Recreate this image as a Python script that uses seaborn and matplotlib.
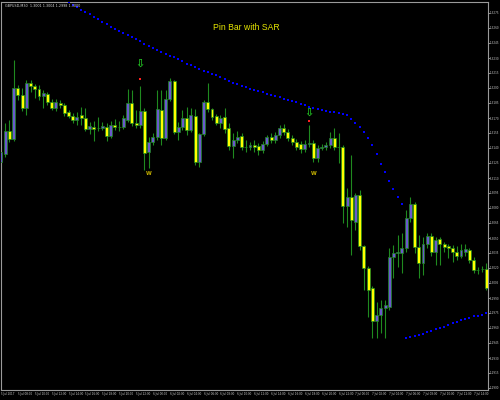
import matplotlib
matplotlib.use('Agg')
import numpy as np
import pandas as pd
from matplotlib import pyplot as plt
import seaborn as sns

# GBPUSD M30 candles
opens = [1.3126, 1.3134, 1.3157, 1.3149, 1.3200, 1.3193, 1.3180, 1.3205, 1.3202, 1.3199,
         1.3192, 1.3194, 1.3186, 1.3180, 1.3185, 1.3183, 1.3176, 1.3172, 1.3168, 1.3173,
         1.3170, 1.3159, 1.3161, 1.3160, 1.3160, 1.3161, 1.3152, 1.3163, 1.3161, 1.3161,
         1.3168, 1.3185, 1.3165, 1.3163, 1.3177, 1.3136, 1.3146, 1.3151, 1.3178, 1.3150,
         1.3189, 1.3207, 1.3156, 1.3161, 1.3170, 1.3158, 1.3172, 1.3126, 1.3154, 1.3186,
         1.3179, 1.3172, 1.3165, 1.3171, 1.3160, 1.3142, 1.3148, 1.3152, 1.3141, 1.3141,
         1.3143, 1.3142, 1.3138, 1.3144, 1.3151, 1.3148, 1.3153, 1.3160, 1.3156, 1.3150,
         1.3146, 1.3144, 1.3139, 1.3144, 1.3145, 1.3130, 1.3140, 1.3141, 1.3143, 1.3150,
         1.3141, 1.3141, 1.3082, 1.3091, 1.3066, 1.3093, 1.3042, 1.3020, 1.3000, 1.2967,
         1.2973, 1.2980, 1.2981, 1.3031, 1.3035, 1.3035, 1.3040, 1.3070, 1.3084, 1.3041,
         1.3025, 1.3044, 1.3052, 1.3036, 1.3049, 1.3044, 1.3042, 1.3040, 1.3036, 1.3032,
         1.3036, 1.3038, 1.3028, 1.3018, 1.3019, 1.3019]
highs = [1.3143, 1.3165, 1.3168, 1.3228, 1.3203, 1.3200, 1.3208, 1.3208, 1.3204, 1.3203,
         1.3198, 1.3196, 1.3189, 1.3189, 1.3188, 1.3185, 1.3178, 1.3175, 1.3176, 1.3181,
         1.3180, 1.3166, 1.3167, 1.3171, 1.3166, 1.3165, 1.3167, 1.3169, 1.3167, 1.3173,
         1.3199, 1.3198, 1.3178, 1.3202, 1.3180, 1.3151, 1.3155, 1.3198, 1.3198, 1.3198,
         1.3210, 1.3208, 1.3166, 1.3178, 1.3181, 1.3180, 1.3179, 1.3155, 1.3188, 1.3205,
         1.3180, 1.3174, 1.3173, 1.3180, 1.3165, 1.3155, 1.3157, 1.3155, 1.3148, 1.3146,
         1.3148, 1.3145, 1.3147, 1.3153, 1.3155, 1.3156, 1.3163, 1.3164, 1.3159, 1.3153,
         1.3149, 1.3147, 1.3148, 1.3163, 1.3148, 1.3143, 1.3144, 1.3146, 1.3156, 1.3160,
         1.3155, 1.3143, 1.3100, 1.3133, 1.3095, 1.3098, 1.3043, 1.3022, 1.3002, 1.2986,
         1.2988, 1.2988, 1.3040, 1.3043, 1.3053, 1.3055, 1.3078, 1.3091, 1.3086, 1.3053,
         1.3051, 1.3055, 1.3055, 1.3051, 1.3051, 1.3046, 1.3044, 1.3043, 1.3042, 1.3044,
         1.3044, 1.3040, 1.3031, 1.3021, 1.3022, 1.3025]
lows = [1.3118, 1.3131, 1.3146, 1.3147, 1.3188, 1.3177, 1.3173, 1.3196, 1.3190, 1.3188,
        1.3180, 1.3183, 1.3178, 1.3177, 1.3180, 1.3172, 1.3170, 1.3165, 1.3163, 1.3163,
        1.3157, 1.3154, 1.3147, 1.3157, 1.3158, 1.3147, 1.3150, 1.3158, 1.3157, 1.3159,
        1.3166, 1.3162, 1.3160, 1.3160, 1.3118, 1.3120, 1.3143, 1.3148, 1.3143, 1.3148,
        1.3187, 1.3154, 1.3148, 1.3158, 1.3153, 1.3156, 1.3123, 1.3121, 1.3152, 1.3176,
        1.3168, 1.3163, 1.3160, 1.3155, 1.3138, 1.3130, 1.3145, 1.3138, 1.3136, 1.3138,
        1.3136, 1.3133, 1.3135, 1.3142, 1.3145, 1.3145, 1.3150, 1.3153, 1.3147, 1.3143,
        1.3138, 1.3135, 1.3136, 1.3141, 1.3126, 1.3126, 1.3138, 1.3138, 1.3140, 1.3138,
        1.3125, 1.3065, 1.3061, 1.3033, 1.3058, 1.3038, 1.2998, 1.2971, 1.2950, 1.2950,
        1.2955, 1.2950, 1.2978, 1.3010, 1.3021, 1.3015, 1.3036, 1.3066, 1.3035, 1.3010,
        1.3013, 1.3040, 1.3032, 1.3023, 1.3023, 1.3036, 1.3030, 1.3026, 1.3028, 1.3030,
        1.3032, 1.3025, 1.3015, 1.3014, 1.3016, 1.2998]
closes = [1.3136, 1.3157, 1.3149, 1.3200, 1.3193, 1.3180, 1.3205, 1.3202, 1.3199, 1.3192,
          1.3195, 1.3186, 1.3180, 1.3186, 1.3183, 1.3175, 1.3172, 1.3168, 1.3171, 1.3170,
          1.3159, 1.3162, 1.3159, 1.3160, 1.3162, 1.3152, 1.3163, 1.3161, 1.3161, 1.3170,
          1.3185, 1.3165, 1.3163, 1.3177, 1.3135, 1.3146, 1.3151, 1.3179, 1.3150, 1.3189,
          1.3207, 1.3156, 1.3161, 1.3170, 1.3158, 1.3173, 1.3126, 1.3154, 1.3186, 1.3179,
          1.3171, 1.3165, 1.3170, 1.3159, 1.3142, 1.3148, 1.3151, 1.3141, 1.3141, 1.3143,
          1.3141, 1.3138, 1.3144, 1.3151, 1.3148, 1.3153, 1.3160, 1.3156, 1.3150, 1.3146,
          1.3141, 1.3139, 1.3144, 1.3145, 1.3130, 1.3140, 1.3141, 1.3143, 1.3150, 1.3141,
          1.3141, 1.3082, 1.3091, 1.3068, 1.3093, 1.3042, 1.3020, 1.2998, 1.2967, 1.2973,
          1.2980, 1.2983, 1.3031, 1.3035, 1.3036, 1.3040, 1.3070, 1.3084, 1.3041, 1.3025,
          1.3044, 1.3052, 1.3036, 1.3048, 1.3044, 1.3041, 1.3040, 1.3036, 1.3032, 1.3038,
          1.3039, 1.3028, 1.3018, 1.3018, 1.3019, 1.3000]

# parabolic SAR, first visible dot is on bar 16
sar_first_bar = 16
sar = [1.32860, 1.32835, 1.32810, 1.32785, 1.32760, 1.32735, 1.32710, 1.32685, 1.32660, 1.32640,
       1.32615, 1.32590, 1.32570, 1.32550, 1.32530, 1.32505, 1.32485, 1.32465, 1.32445, 1.32425,
       1.32405, 1.32380, 1.32360, 1.32340, 1.32320, 1.32305, 1.32285, 1.32265, 1.32245, 1.32230,
       1.32210, 1.32195, 1.32175, 1.32160, 1.32140, 1.32125, 1.32105, 1.32090, 1.32070, 1.32055,
       1.32040, 1.32025, 1.32010, 1.31995, 1.31980, 1.31965, 1.31955, 1.31940, 1.31930, 1.31915,
       1.31905, 1.31890, 1.31880, 1.31865, 1.31855, 1.31840, 1.31830, 1.31815, 1.31805, 1.31790,
       1.31780, 1.31770, 1.31765, 1.31755, 1.31745, 1.31735, 1.31725, 1.31690, 1.31650, 1.31610,
       1.31560, 1.31500, 1.31430, 1.31340, 1.31240, 1.31160, 1.31070, 1.30990, 1.30910, 1.30840,
       1.29500, 1.29510, 1.29520, 1.29530, 1.29545, 1.29560, 1.29575, 1.29590, 1.29600, 1.29615,
       1.29630, 1.29645, 1.29660, 1.29675, 1.29685, 1.29700, 1.29715, 1.29720, 1.29730, 1.29750]

# pin bar signals
signal_bars = [33, 73]
signal_arrow = [1.32245, 1.31755]
signal_dot = [1.3209, 1.3167]
w_bars = [35, 74]
w_price = [1.3117, 1.3117]

price_ticks = [1.2900, 1.2915, 1.2930, 1.2945, 1.2960, 1.2975, 1.2990, 1.3005, 1.3020,
               1.3035, 1.3050, 1.3065, 1.3080, 1.3095, 1.3110, 1.3125, 1.3140, 1.3155,
               1.3170, 1.3185, 1.3200, 1.3215, 1.3230, 1.3245, 1.3260, 1.3275]
time_labels = ['5 Jul 2017', '5 Jul 08:00', '5 Jul 10:00', '5 Jul 12:00', '5 Jul 14:00',
               '5 Jul 16:00', '5 Jul 18:00', '5 Jul 20:00', '5 Jul 22:00', '6 Jul 00:00',
               '6 Jul 02:00', '6 Jul 04:00', '6 Jul 06:00', '6 Jul 08:00', '6 Jul 10:00',
               '6 Jul 12:00', '6 Jul 14:00', '6 Jul 16:00', '6 Jul 18:00', '6 Jul 20:00',
               '6 Jul 22:00', '7 Jul 00:00', '7 Jul 02:00', '7 Jul 04:00', '7 Jul 06:00',
               '7 Jul 08:00', '7 Jul 10:00', '7 Jul 12:00', '7 Jul 14:00']

df = pd.DataFrame({'open': opens, 'high': highs, 'low': lows, 'close': closes})
df['bar'] = np.arange(len(df))
sar_df = pd.DataFrame({'bar': np.arange(sar_first_bar, sar_first_bar + len(sar)), 'sar': sar})

sns.set_style('dark', {'axes.facecolor': 'black', 'figure.facecolor': 'black'})
plt.rcParams['font.family'] = ['DejaVu Sans']

fig = plt.figure(figsize=(5, 4), dpi=100)
ax = fig.add_axes([0.002, 0.025, 0.974, 0.97])
ax.set_facecolor('black')

wick = '#1f8a1f'
up = df['close'] >= df['open']
ax.vlines(df['bar'], df['low'], df['high'], color=wick, lw=0.8, zorder=2)
body_colors = np.where(up, '#6a5acd', '#ffff00')
ax.bar(df['bar'], df['close'] - df['open'], bottom=df['open'], width=0.7,
       color=body_colors, edgecolor=wick, linewidth=0.5, zorder=3)

sns.scatterplot(data=sar_df, x='bar', y='sar', ax=ax, marker='s', s=3,
                color='#0000ff', linewidth=0, zorder=4)

for b, a, d in zip(signal_bars, signal_arrow, signal_dot):
    ax.text(b, a, '\u21e9', color='#22c022', fontsize=8, fontweight='bold',
            ha='center', va='center', zorder=5)
    ax.scatter([b], [d], marker='s', s=3, color='#ff2020', linewidth=0, zorder=5)
for b, p in zip(w_bars, w_price):
    ax.text(b, p, 'W', color='#c8b400', fontsize=3.8, fontweight='bold',
            ha='center', va='top', zorder=5)

ax.set_xlim(0, 115.4)
ax.set_ylim(1.2898, 1.3286)
ax.set_xlabel('')
ax.set_ylabel('')

ax.yaxis.tick_right()
ax.set_yticks(price_ticks)
ax.set_yticklabels(['%.4f' % p for p in price_ticks])
ax.set_xticks(np.arange(0, 4 * len(time_labels), 4))
ax.set_xticklabels(time_labels, ha='left')
ax.tick_params(axis='both', colors='#c8c8c8', labelsize=2.0, length=1.2, width=0.5, pad=0.4)
for s in ax.spines.values():
    s.set_color('#9a9a9a')
    s.set_linewidth(0.8)

fig.text(0.01, 0.985, 'GBPUSD,M30  1.3001 1.3004 1.2998 1.3000', color='#d8d8d8',
         fontsize=2.4, ha='left', va='center')
fig.text(0.492, 0.93, 'Pin Bar with SAR', color='#e6e600', fontsize=6.2,
         family=['Liberation Sans Narrow', 'Liberation Sans', 'DejaVu Sans'],
         ha='center', va='center')

fig.savefig('out.png', dpi=100, facecolor='black')
